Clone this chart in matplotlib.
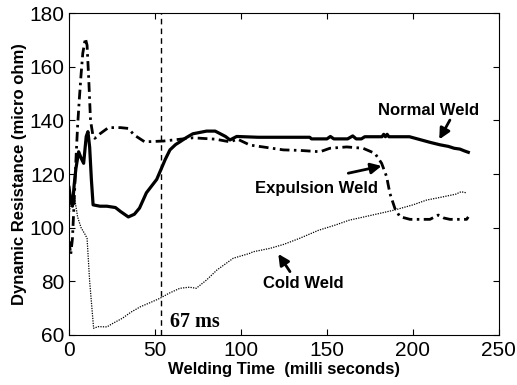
import numpy as np
import matplotlib
matplotlib.use("Agg")
import matplotlib.pyplot as plt

# values (ms, micro ohm)
normal_t = [0, 1, 2, 3, 4, 5.6, 7, 8.5, 10, 11, 12, 13, 14, 18, 22, 27, 30, 34.5, 38, 41, 45,
            48, 51, 53, 56, 58.7, 62, 64.5, 68, 72, 76, 80, 85, 88, 91, 93.6, 97.5, 110, 125,
            140, 141, 150, 152, 154, 162, 165, 167, 170, 172, 182, 183, 184, 185, 186, 198,
            202, 206, 210, 215.7, 220.6, 224, 227.3, 230, 232.2]
normal_r = [115, 110, 108, 116, 122, 128.3, 126, 124, 134, 135.8, 130, 118, 108.5, 108, 108,
            107.5, 106, 104, 105, 107.3, 113, 115.5, 118, 121, 125.5, 129, 131, 132, 133.5,
            135, 135.5, 136, 136, 135, 134, 132.7, 134, 133.7, 133.7, 133.7, 133.1, 133.1,
            134.0, 133.1, 133.1, 134.2, 133.1, 133.1, 133.9, 133.9, 134.8, 133.9, 134.8, 133.9,
            133.9, 133.2, 132.5, 131.8, 130.9, 130.3, 129.6, 129.3, 128.6, 128.1]

expul_t = [0, 1, 2, 3, 4, 5, 6, 7, 8, 9.5, 10.5, 11.5, 12.5, 14, 15, 18, 22.9, 30, 34.4, 38,
           44, 55, 72, 85, 93.6, 98, 105.2, 124.6, 134.3, 146, 151.7, 161.5, 171, 177.9, 181.8,
           184.7, 186.6, 189.5, 192.4, 198.3, 209.9, 214.7, 218, 221.5, 231.2, 232.2]
expul_r = [95, 90, 96, 110, 125, 138, 148, 157, 165, 170.6, 168, 155, 140, 134, 133.3, 135,
           137.3, 137.3, 137, 134.5, 132, 132.3, 133.5, 133, 132, 133, 130.8, 129, 128.8,
           128.3, 129.6, 130.1, 129.6, 127.7, 124, 119, 112.8, 107.2, 104.1, 103.1, 103.1,
           104.7, 103.6, 103.1, 103.1, 104]

cold_t = [0, 1, 3, 5, 7, 9.5, 10.5, 12, 14.3, 17, 22, 26, 31, 36, 41.5, 47, 53, 58, 64.5, 70,
          74, 80, 86, 95.5, 105, 107, 117, 125, 134, 145, 155, 163, 175, 189.5, 200, 208, 216,
          225, 228, 231]
cold_r = [104, 110, 112, 104, 100, 97.3, 96, 80, 62.5, 63.1, 63, 64.5, 66.2, 68.5, 70.5, 72,
          73.7, 75.5, 77.4, 77.8, 77.4, 80.5, 84.2, 88.6, 90.4, 91, 92.3, 93.8, 96, 99, 101,
          102.8, 104.5, 106.6, 108.5, 110.3, 111.3, 112.5, 113.4, 113]

marker_t = 53.5

fig = plt.figure(figsize=(5.17, 3.85), dpi=100)
ax = fig.add_axes([0.1335, 0.13, 0.8315, 0.836])

ax.plot(normal_t, normal_r, color='black', lw=2.3, solid_joinstyle='round')
ax.plot(expul_t, expul_r, color='black', lw=2.0, linestyle=(0, (3.5, 1.6, 0.9, 1.6)))
ax.plot(cold_t, cold_r, color='black', lw=0.9, linestyle=(0, (1, 1)))
ax.axvline(marker_t, color='black', lw=1.0, linestyle=(0, (4, 3)))

bold = dict(fontsize=12, fontweight='bold', family='Liberation Sans')
arrow = dict(arrowstyle='-|>', color='black', lw=2, mutation_scale=16, shrinkA=0, shrinkB=0)

ax.text(208.9, 143.8, 'Normal Weld', ha='center', va='center', **bold)
ax.annotate('', xy=(215.3, 132.9), xytext=(221.5, 140.1), arrowprops=arrow)
ax.text(144, 114.7, 'Expulsion Weld', ha='center', va='center', **bold)
ax.annotate('', xy=(181.8, 123.0), xytext=(162.4, 120.3), arrowprops=arrow)
ax.text(136.2, 79.0, 'Cold Weld', ha='center', va='center', **bold)
ax.annotate('', xy=(121.7, 90.2), xytext=(128.5, 83.6), arrowprops=arrow)
ax.text(59, 64.8, '67 ms', ha='left', va='center', fontsize=14.5, fontweight='bold',
        family='Liberation Serif')

ax.set_xlim(0, 250)
ax.set_ylim(60, 180)
ax.set_xticks(np.arange(0, 251, 50))
ax.set_yticks(np.arange(60, 181, 20))
ax.tick_params(direction='in', top=True, right=True, length=4, labelsize=15)
ax.tick_params(axis='x', pad=4)
ax.tick_params(axis='y', pad=3)
for lab in ax.get_xticklabels() + ax.get_yticklabels():
    lab.set_family('Liberation Sans')
ax.set_xlabel('Welding Time  (milli seconds)', **bold, labelpad=2)
ax.set_ylabel('Dynamic Resistance (micro ohm)', **bold, labelpad=2)

fig.savefig('out.png', dpi=100)
